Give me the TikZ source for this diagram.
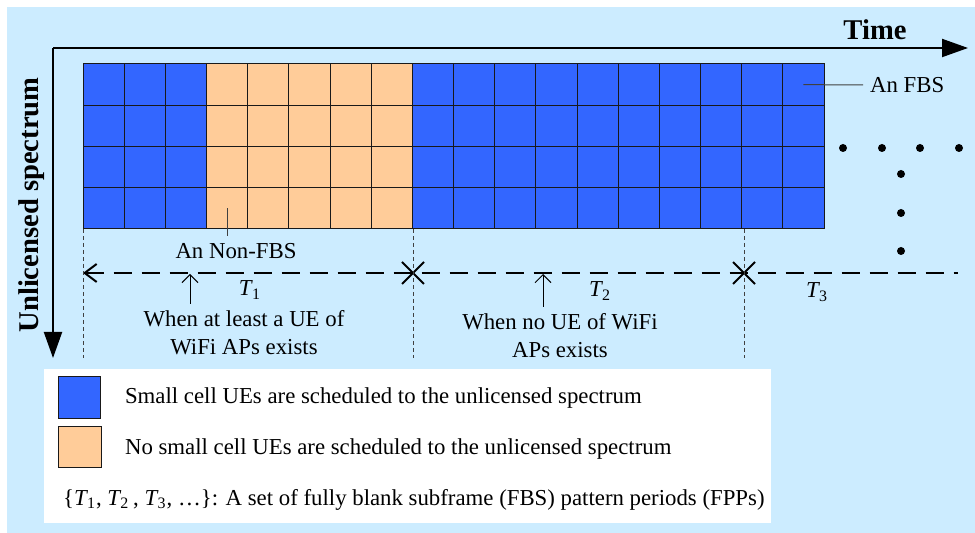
\documentclass[tikz,border=0pt]{standalone}
\usepackage{fontspec}
\setmainfont{Liberation Serif}
\usetikzlibrary{arrows.meta, positioning, shapes.misc}
\definecolor{bgblue}{RGB}{204,236,255}
\definecolor{fbsblue}{RGB}{51,102,255}
\definecolor{nonfbs}{RGB}{255,204,153}
\newcommand{\fpp}[1]{\textit{T}\kern-0.5pt\textsubscript{#1}}

\begin{document}
\begin{tikzpicture}[
    x=0.5pt, y=-0.5pt,
    axis/.style={line width=1pt, -{Triangle[length=13pt, width=9pt]}},
    cell/.style={draw=black!90, line width=0.5pt, inner sep=0pt, outer sep=0pt,
                 minimum width=20.585pt, minimum height=20.625pt, anchor=north west},
    period/.style={line width=1pt, dash pattern=on 9pt off 5pt},
    bound/.style={line width=0.4pt, black!75, dash pattern=on 2pt off 1.5pt},
    pointer/.style={line width=0.5pt, -{Straight Barb[length=4pt, width=8pt]}},
    leader/.style={line width=0.5pt, black!75},
    lbl/.style={font=\fontsize{11.4}{14}\selectfont, align=center},
    sep/.style={cross out, draw, line width=1pt, minimum size=10pt, inner sep=0pt},
    dot/.style={circle, fill, inner sep=0pt, minimum size=4pt}
]

   % Canvas
   \useasboundingbox (0,0) rectangle (975,533);
   \fill[bgblue] (7,7) rectangle (975,533);

   % Axes
   \coordinate (o) at (53,48);
   \coordinate (tend) at (968,48);
   \coordinate (fend) at (53,358);
   \draw[axis] (o) -- (tend);
   \draw[axis] (o) -- (fend);
   \node[font=\bfseries\fontsize{14.3}{17}\selectfont] (time) at (875,30) {Time};
   \node[rotate=90, font=\bfseries\fontsize{14.3}{17}\selectfont] (spec) at (32,205) {Unlicensed spectrum};

   % Subframes
   \foreach \c in {0,1,2,8,9,...,17}
     \foreach \r in {0,...,3}
       \node[cell, fill=fbsblue] (c-\c-\r) at ({83+41.17*\c},{64+41.25*\r}) {};
   \foreach \c in {3,...,7}
     \foreach \r in {0,...,3}
       \node[cell, fill=nonfbs] (c-\c-\r) at ({83+41.17*\c},{64+41.25*\r}) {};

   \node[lbl, anchor=west] (fbs) at (863,85) {An FBS};
   \draw[leader] (c-17-0.center) -- (fbs.west);
   \node[lbl] (nonfbs) at (236,251) {An Non-FBS};
   \draw[leader] (c-3-3.center) -- (c-3-3.center |- nonfbs.north);

   % More frequencies and time
   \foreach \n/\x/\y in {d1/843/148, d2/882/148, d3/920/148, d4/959/148,
                         d5/901/174, d6/901/213, d7/901/251}
     \node[dot] (\n) at (\x,\y) {};

   % Periods
   \coordinate (p0) at (83,273);
   \node[sep] (x1) at (413,273) {};
   \node[sep] (x2) at (744,273) {};
   \coordinate (pend) at (958,273);
   \draw[period, {Straight Barb[length=6pt, width=9pt]}-] (p0) -- (x1.center) -- (x2.center) -- (pend);

   \coordinate (b0) at (83,358);
   \coordinate (b1) at (413,358);
   \coordinate (b2) at (744,358);
   \draw[bound] (b0 |- c-0-3.south) -- (b0);
   \draw[bound] (b1 |- c-8-3.south) -- (b1);
   \draw[bound] (b2 |- c-16-3.south) -- (b2);

   \node[lbl] (t1) at (250,290) {\fpp{1}};
   \node[lbl] (t2) at (600,291) {\fpp{2}};
   \node[lbl] (t3) at (817,292) {\fpp{3}};

   \node[lbl] (wa) at (244,333) {When at least a UE of\\WiFi APs exists};
   \node[lbl] (wb) at (560,336) {When no UE of WiFi\\APs exists};
   \coordinate (ua) at (190,274);
   \coordinate (ub) at (543,274);
   \draw[pointer] (ua |- wa.north) -- (ua);
   \draw[pointer] (ub |- wb.north) -- (ub);

   % Legend
   \fill[white] (44,369) rectangle (771,523);
   \node[cell, fill=fbsblue, minimum width=21pt, minimum height=21pt] (keyfbs) at (58,377) {};
   \node[cell, fill=nonfbs, minimum width=21.5pt, minimum height=20.5pt] (keynon) at (58,427) {};
   \node[lbl, anchor=west] (keyfbstxt) at (118,398) {Small cell UEs are scheduled to the unlicensed spectrum};
   \node[lbl, anchor=west] (keynontxt) at (118,449) {No small cell UEs are scheduled to the unlicensed spectrum};
   \node[lbl, anchor=west] (keyset) at (56,500) {\{\fpp{1}, \fpp{2}\,, \fpp{3}, \ldots\}: A set of fully blank subframe (FBS) pattern periods (FPPs)};

\end{tikzpicture}
\end{document}
